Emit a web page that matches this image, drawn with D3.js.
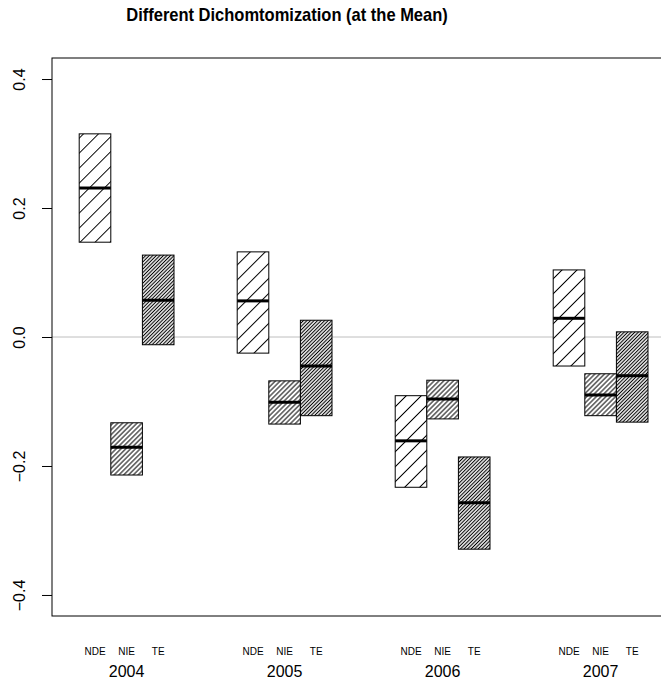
<!DOCTYPE html>
<html>
<head>
<meta charset="utf-8">
<script src="https://cdn.jsdelivr.net/npm/d3@7"></script>
<style>
  body { margin: 0; background: #fff; }
  text { font-family: "Liberation Sans", Arial, Helvetica, sans-serif; }
</style>
</head>
<body>
<div id="chart-container"></div>
<script>
var years = ["2004", "2005", "2006", "2007"];
var effects = ["NDE", "NIE", "TE"];
var yTicks = [-0.4, -0.2, 0.0, 0.2, 0.4];

//lower end, median and upper end of each box, one value per year
var lowNDE  = [0.147, -0.025, -0.233, -0.045];
var midNDE  = [0.231, 0.056, -0.161, 0.029];
var highNDE = [0.315, 0.132, -0.091, 0.104];
var lowNIE  = [-0.214, -0.135, -0.127, -0.122];
var midNIE  = [-0.171, -0.101, -0.096, -0.090];
var highNIE = [-0.133, -0.068, -0.067, -0.057];
var lowTE   = [-0.012, -0.122, -0.329, -0.132];
var midTE   = [0.057, -0.045, -0.257, -0.060];
var highTE  = [0.127, 0.026, -0.186, 0.008];

var width = 661;
var height = 683;
var plot = {left: 52, top: 58, bottom: 616, right: 672};

var svg = d3.select("#chart-container")
    .append("svg")
    .attr("width", width)
    .attr("height", height);

//hatch fills, one per effect (spacing is perpendicular distance between lines)
var defs = svg.append("defs");
function addHatch(id, spacing, lw)
{
    defs.append("pattern")
        .attr("id", id)
        .attr("patternUnits", "userSpaceOnUse")
        .attr("width", spacing)
        .attr("height", spacing)
        .attr("patternTransform", "rotate(45)")
        .append("line")
        .attr("x1", spacing / 2).attr("y1", 0)
        .attr("x2", spacing / 2).attr("y2", spacing)
        .attr("stroke", "#000")
        .attr("stroke-width", lw);
}
addHatch("hatch-NDE", 10.6, 1);
addHatch("hatch-NIE", 3.4, 1);
addHatch("hatch-TE", 2.5, 1.1);

// slot 0..18 along x: group g, effect e sits at g*5 + e + 1
var x = d3.scaleLinear().domain([0, 18]).range([63.4, 632.2]);
var y = d3.scaleLinear().domain([-0.4326, 0.4326]).range([plot.bottom, plot.top]);
var boxW = x(1) - x(0);

var data = [];
var series = {
    NDE: [lowNDE, midNDE, highNDE],
    NIE: [lowNIE, midNIE, highNIE],
    TE:  [lowTE, midTE, highTE]
};
years.forEach(function(yr, g) {
    effects.forEach(function(eff, e) {
        var s = series[eff];
        data.push({year: yr, effect: eff, pos: g * 5 + e + 1, low: s[0][g], mid: s[1][g], high: s[2][g]});
    });
});

//zero reference line
svg.append("line")
    .attr("x1", plot.left).attr("x2", plot.right)
    .attr("y1", y(0)).attr("y2", y(0))
    .attr("stroke", "#bebebe")
    .attr("stroke-width", 1);

var boxes = svg.selectAll(".box")
    .data(data)
    .enter()
    .append("g")
    .attr("class", "box");

boxes.append("rect")
    .attr("x", function(d) { return x(d.pos) - boxW / 2; })
    .attr("y", function(d) { return y(d.high); })
    .attr("width", boxW)
    .attr("height", function(d) { return y(d.low) - y(d.high); })
    .attr("fill", "#fff");

boxes.append("rect")
    .attr("x", function(d) { return x(d.pos) - boxW / 2; })
    .attr("y", function(d) { return y(d.high); })
    .attr("width", boxW)
    .attr("height", function(d) { return y(d.low) - y(d.high); })
    .attr("fill", function(d) { return "url(#hatch-" + d.effect + ")"; })
    .attr("stroke", "#000")
    .attr("stroke-width", 1);

boxes.append("line")
    .attr("x1", function(d) { return x(d.pos) - boxW / 2; })
    .attr("x2", function(d) { return x(d.pos) + boxW / 2; })
    .attr("y1", function(d) { return y(d.mid); })
    .attr("y2", function(d) { return y(d.mid); })
    .attr("stroke", "#000")
    .attr("stroke-width", 3);

//frame (right side runs off the picture)
svg.append("rect")
    .attr("x", plot.left).attr("y", plot.top)
    .attr("width", plot.right - plot.left)
    .attr("height", plot.bottom - plot.top)
    .attr("fill", "none")
    .attr("stroke", "#000")
    .attr("stroke-width", 1);

//y axis
var yAxis = svg.append("g")
    .attr("transform", "translate(" + plot.left + ",0)")
    .call(d3.axisLeft(y).tickValues(yTicks).tickSize(10).tickFormat(d3.format(".1f")));
yAxis.select(".domain").remove();
yAxis.selectAll(".tick line").attr("stroke", "#000");
yAxis.selectAll(".tick text")
    .attr("x", null).attr("dy", null)
    .attr("transform", "translate(-27,0) rotate(-90)")
    .attr("text-anchor", "middle")
    .attr("fill", "#000")
    .style("font-size", "16px")
    .style("font-family", "Liberation Sans, Arial, sans-serif");

//effect labels under each box
svg.selectAll(".eff-label")
    .data(data)
    .enter()
    .append("text")
    .attr("class", "eff-label")
    .attr("x", function(d) { return x(d.pos); })
    .attr("y", 655)
    .attr("text-anchor", "middle")
    .style("font-size", "10px")
    .text(function(d) { return d.effect; });

//year labels under the middle box
svg.selectAll(".year-label")
    .data(years)
    .enter()
    .append("text")
    .attr("class", "year-label")
    .attr("x", function(d, g) { return x(g * 5 + 2); })
    .attr("y", 677)
    .attr("text-anchor", "middle")
    .style("font-size", "16px")
    .text(function(d) { return d; });

//title, slightly condensed like the original
svg.append("text")
    .attr("transform", "translate(287,21) scale(0.917,1)")
    .attr("text-anchor", "middle")
    .style("font-size", "18px")
    .style("font-weight", "bold")
    .text("Different Dichomtomization (at the Mean)");
</script>
</body>
</html>
